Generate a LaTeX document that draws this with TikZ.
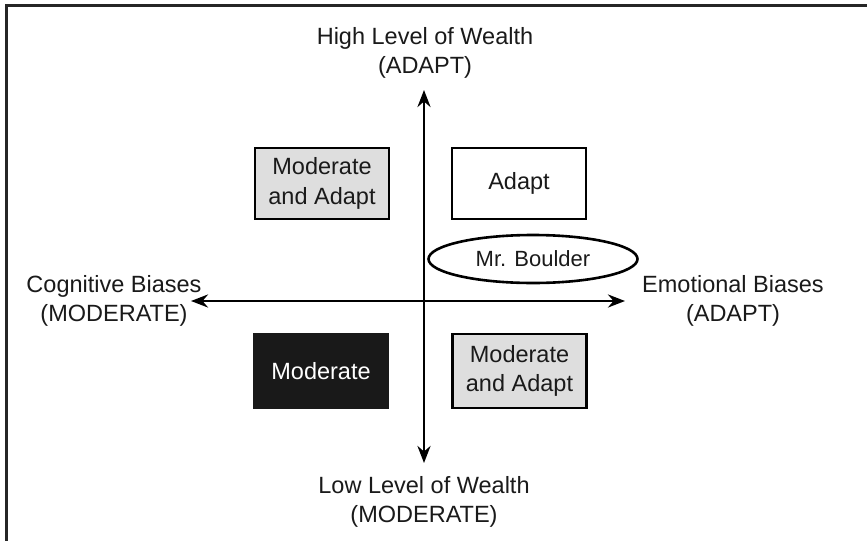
\documentclass[tikz,border=0pt]{standalone}
\usepackage{fontspec}
\setmainfont{Liberation Sans}
\usetikzlibrary{arrows.meta,shapes.geometric}
\definecolor{boxgray}{HTML}{DEDEDE}
\definecolor{txt}{HTML}{1A1A1A}
\begin{document}
\begin{tikzpicture}[x=1pt,y=-1pt,
  every node/.style={font=\fontsize{23.5}{29.5}\selectfont, text=txt, align=center},
  qbox/.style={draw=black, line width=2.6pt, minimum width=134pt, inner sep=0pt},
  axis/.style={line width=2.8pt, -{Stealth[length=17pt,width=13pt]}},
  lbl/.style={inner sep=0pt}]
\useasboundingbox (0,0) rectangle (867,541);
\fill[white] (0,0) rectangle (867,541);
% frame (only top and left visible)
\draw[line width=2.8pt, black!85] (867,5.5) -- (6.5,5.5) -- (6.5,541);
% axis ends
\coordinate (ctr) at (424,301);
\coordinate (top) at (424,90);
\coordinate (bot) at (424,463);
\coordinate (lft) at (191,301);
\coordinate (rgt) at (625,301);
\draw[axis] (ctr) -- (top);
\draw[axis] (ctr) -- (bot);
\draw[axis] (ctr) -- (lft);
\draw[axis] (ctr) -- (rgt);
% labels
\node[lbl] (hi) at (425,53) {High Level of Wealth\\(ADAPT)};
\node[lbl] (lo) at (424,502) {Low Level of Wealth\\(MODERATE)};
\node[lbl] (cog) at (114,301) {Cognitive Biases\\(MODERATE)};
\node[lbl] (emo) at (733,301) {Emotional Biases\\(ADAPT)};
% boxes
\node[qbox, fill=boxgray, minimum height=71pt] (tl) at (322,183.5) {Moderate\\and Adapt};
\node[qbox, fill=white, minimum height=71pt] (tr) at (519,183.5) {Adapt};
\node[qbox, fill=black!90, draw=black!90, text=white, minimum height=74pt] (bl) at (321,371) {Moderate};
\node[qbox, fill=boxgray, minimum height=74pt] (br) at (519.5,371) {Moderate\\and Adapt};
% ellipse
\node[ellipse, draw=black, line width=2.6pt, fill=white, minimum width=209pt, minimum height=48pt, inner sep=0pt, font=\fontsize{22}{26}\selectfont] (mb) at (533,259) {Mr. Boulder};
\end{tikzpicture}
\end{document}
